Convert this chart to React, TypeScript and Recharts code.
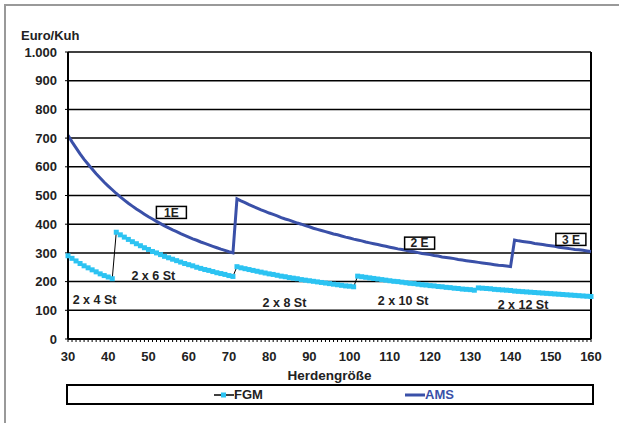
import { LineChart, Line, XAxis, YAxis, CartesianGrid, ReferenceLine, ReferenceDot } from 'recharts';

// Herd sizes 30..160 cows, one point per cow
const herdSizes = Array.from({ length: 131 }, (_, i) => 30 + i);

// Euro per cow, milking parlour (FGM)
const fgmCosts = [
  290, 281, 272, 263, 255, 248, 241, 234, 227, 221, 216, 210,
  372, 363, 355, 347, 339, 332, 325, 318, 312, 305, 300, 294, 288, 283, 278, 273, 268, 263, 259, 255, 250, 246, 242, 239, 235, 231, 228, 225, 221, 218,
  252, 248, 245, 242, 239, 236, 233, 230, 227, 225, 222, 219, 217, 214, 212, 210, 207, 205, 203, 201, 199, 197, 195, 193, 191, 189, 187, 185, 184, 182,
  219, 217, 215, 213, 211, 209, 207, 205, 203, 201, 200, 198, 196, 194, 193, 191, 189, 188, 186, 185, 183, 182, 180, 179, 177, 176, 174, 173, 172, 170,
  178, 177, 176, 175, 173, 172, 171, 170, 169, 167, 166, 165, 164, 163, 162, 161, 160, 159, 158, 157, 156, 155, 154, 153, 152, 151, 150, 149, 148,
];

// Euro per cow, milking robot (AMS) with 1, 2 and 3 boxes
const amsCosts = [
  710, 687, 666, 645, 626, 609, 592, 576, 561, 546, 533, 520, 507, 495, 484, 473, 463, 453, 444, 435, 426, 418, 410, 402, 394, 387, 380, 374, 367, 361, 355, 349, 344, 338, 333, 328, 323, 318, 313, 309, 304, 300,
  488, 481, 475, 468, 462, 456, 450, 445, 439, 434, 429, 423, 418, 414, 409, 404, 400, 395, 391, 386, 382, 378, 374, 370, 366, 363, 359, 355, 352, 348, 345, 342, 338, 335, 332, 329, 326, 323, 320, 317, 314, 312, 309, 306, 304, 301, 298, 296, 294, 291, 289, 286, 284, 282, 280, 277, 275, 273, 271, 269, 267, 265, 263, 261, 259, 257, 256, 254, 252,
  345, 342, 340, 338, 336, 333, 331, 329, 327, 325, 323, 320, 318, 316, 314, 312, 311, 309, 307, 305,
];

const yTicks = [0, 100, 200, 300, 400, 500, 600, 700, 800, 900, 1000];

const stallLabels = [
  { text: '2 x 4 St', x: 36.6, y: 138 },
  { text: '2 x 6 St', x: 51.2, y: 220 },
  { text: '2 x 8 St', x: 83.8, y: 128 },
  { text: '2 x 10 St', x: 113.3, y: 133 },
  { text: '2 x 12 St', x: 143.1, y: 121 },
];

const boxLabels = [
  { text: '1E', x: 55.7, y: 441 },
  { text: '2 E', x: 117.4, y: 334 },
  { text: '3 E', x: 155.0, y: 347 },
];

const data = herdSizes.map((n, i) => ({ n, fgm: fgmCosts[i], ams: amsCosts[i] }));

const FONT = '"Liberation Sans", Arial, sans-serif';
const CYAN = '#2CC3F2';
const NAVY = '#3A50A8';

const XTick = (props: any) => {
  const { x, y, payload } = props;
  if (payload.value % 10 !== 0) return <g />;
  return (
    <text x={x} y={y} dy="0.71em" textAnchor="middle" fontFamily={FONT} fontSize={13} fontWeight="bold" fill="#222">
      {payload.value}
    </text>
  );
};

const SquareDot = (props: any) => {
  const { cx, cy, index } = props;
  if (cx == null || cy == null) return <g key={index} />;
  return <rect key={index} x={cx - 2.5} y={cy - 2.5} width={5} height={5} fill={CYAN} />;
};

const stallShape = (text: string) => (p: any) => (
  <text x={p.cx} y={p.cy} dy="0.35em" textAnchor="middle" fontFamily={FONT} fontSize={12.5} fontWeight="bold" fill="#222">
    {text}
  </text>
);

const boxShape = (text: string) => (p: any) => (
  <g>
    <rect x={p.cx - 15} y={p.cy - 6} width={30} height={12} fill="#fff" stroke="#000" strokeWidth={1.5} />
    <text x={p.cx} y={p.cy} dy="0.36em" textAnchor="middle" fontFamily={FONT} fontSize={12} fontWeight="bold" fill="#222">
      {text}
    </text>
  </g>
);

export default function App() {
  return (
    <div style={{ position: 'absolute', left: 0, top: 0, width: 619, height: 423, overflow: 'hidden', background: '#fff' }}>
      <div style={{ position: 'absolute', left: 4, top: 4, width: 700, height: 500, borderTop: '2px solid #999', borderLeft: '2px solid #999' }} />
      <LineChart width={619} height={423} data={data} margin={{ top: 52, right: 28, bottom: 0, left: 0 }} style={{ position: 'absolute', left: 0, top: 0 }}>
        <CartesianGrid vertical={false} stroke="#000" strokeWidth={1.5} />
        <XAxis
          dataKey="n"
          type="number"
          domain={[30, 160]}
          ticks={herdSizes}
          interval={0}
          height={84}
          tickSize={3}
          tickMargin={10}
          tick={<XTick />}
          tickLine={{ stroke: '#000' }}
          axisLine={{ stroke: '#000', strokeWidth: 2 }}
          label={{ value: 'Herdengröße', position: 'insideTop', offset: 31, fontFamily: FONT, fontSize: 13.5, fontWeight: 'bold', fill: '#222' }}
        />
        <YAxis
          type="number"
          domain={[0, 1000]}
          ticks={yTicks}
          interval={0}
          width={68}
          tickSize={3}
          tickMargin={8}
          tickFormatter={(v: number) => (v === 1000 ? '1.000' : String(v))}
          tick={{ fontFamily: FONT, fontSize: 13, fontWeight: 'bold', fill: '#222' }}
          tickLine={{ stroke: '#000' }}
          axisLine={{ stroke: '#000', strokeWidth: 2 }}
        />
        <ReferenceLine x={160} stroke="#000" strokeWidth={2} />
        <Line dataKey="fgm" stroke="#000" strokeWidth={1} dot={SquareDot} activeDot={false} isAnimationActive={false} />
        <Line dataKey="ams" stroke={NAVY} strokeWidth={3} dot={false} activeDot={false} isAnimationActive={false} />
        {stallLabels.map((l) => (
          <ReferenceDot key={l.text} x={l.x} y={l.y} r={0} shape={stallShape(l.text)} />
        ))}
        {boxLabels.map((l) => (
          <ReferenceDot key={l.text} x={l.x} y={l.y} r={0} shape={boxShape(l.text)} />
        ))}
        <text x={21} y={40} fontFamily={FONT} fontSize={13} fontWeight="bold" fill="#222">
          Euro/Kuh
        </text>
      </LineChart>
      {/* legend */}
      <div style={{ position: 'absolute', left: 66, top: 384, width: 524, height: 17, border: '2px solid #000', fontFamily: FONT, fontSize: 13, fontWeight: 'bold' }}>
        <svg width={20} height={10} style={{ position: 'absolute', left: 146, top: 4 }}>
          <line x1={0} y1={5} x2={20} y2={5} stroke="#000" strokeWidth={1.5} />
          <rect x={7} y={2.5} width={5} height={5} fill={CYAN} />
        </svg>
        <span style={{ position: 'absolute', left: 166, top: 1, color: '#222' }}>FGM</span>
        <svg width={20} height={10} style={{ position: 'absolute', left: 337, top: 4 }}>
          <line x1={0} y1={5} x2={20} y2={5} stroke={NAVY} strokeWidth={3} />
        </svg>
        <span style={{ position: 'absolute', left: 357, top: 1, color: NAVY }}>AMS</span>
      </div>
    </div>
  );
}
